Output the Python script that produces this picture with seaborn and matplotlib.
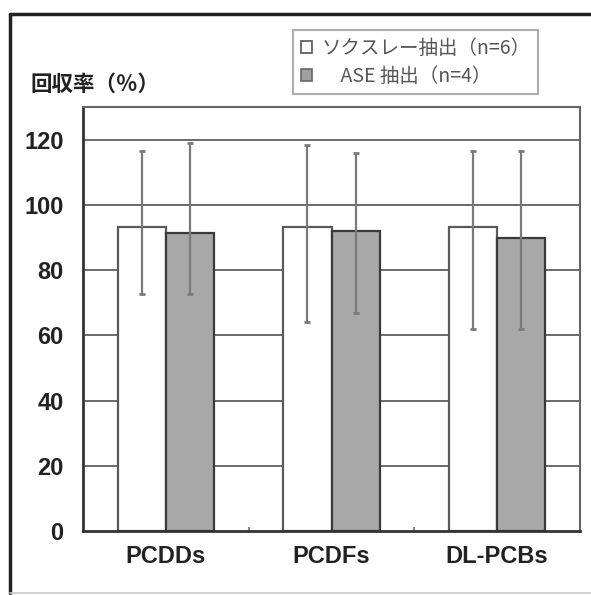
import matplotlib
matplotlib.use("Agg")
import matplotlib.pyplot as plt
from matplotlib.patches import Rectangle
from matplotlib.lines import Line2D
import seaborn as sns
import pandas as pd
import numpy as np

# Recovery rates (%) by compound group and extraction method
categories = ["PCDDs", "PCDFs", "DL-PCBs"]
methods = ["ソクスレー抽出（n=6）", "　ASE 抽出（n=4）"]
soxhlet_mean = [93.1, 93.1, 93.1]
soxhlet_low = [72.8, 64.0, 62.0]
soxhlet_high = [116.6, 118.2, 116.6]
ase_mean = [91.3, 92.1, 89.9]
ase_low = [72.8, 66.9, 62.0]
ase_high = [119.1, 115.9, 116.6]
yticks = [0, 20, 40, 60, 80, 100, 120]

df = pd.DataFrame({
    "category": categories * 2,
    "method": [methods[0]] * 3 + [methods[1]] * 3,
    "value": soxhlet_mean + ase_mean,
})

sns.set_theme(style="white")
plt.rcParams["font.family"] = ["Noto Sans CJK JP", "DejaVu Sans"]

fig = plt.figure(figsize=(5.91, 5.95), dpi=100)
ax = fig.add_axes([83 / 591, 1 - 531 / 595, (580 - 83) / 591, (531 - 107) / 595])

colors = ["#ffffff", "#a8a8a8"]
sns.barplot(data=df, x="category", y="value", hue="method", order=categories,
            hue_order=methods, palette=colors, width=0.58, errorbar=None,
            ax=ax, legend=False, zorder=2)

edge_cols = ["#5a5a5a", "#3a3a3a"]
for cont, ec in zip(ax.containers, edge_cols):
    for bar in cont:
        bar.set_edgecolor(ec)
        bar.set_linewidth(1.6)

# min-max ranges as error bars
ranges = [(soxhlet_mean, soxhlet_low, soxhlet_high), (ase_mean, ase_low, ase_high)]
for cont, (m, lo, hi) in zip(ax.containers, ranges):
    xs = [b.get_x() + b.get_width() / 2 for b in cont]
    m = np.array(m); lo = np.array(lo); hi = np.array(hi)
    ax.errorbar(xs, m, yerr=[m - lo, hi - m], fmt="none", ecolor="#7a7a7a",
                elinewidth=1.6, capsize=2.2, capthick=2.0, zorder=3)

ax.set_xlim(-0.5, 2.5)
ax.set_ylim(0, 130)
ax.set_yticks(yticks)
ax.set_yticklabels([str(v) for v in yticks], family="Liberation Sans",
                   fontsize=17, fontweight="bold", color="#222222")
ax.set_xticks(range(len(categories)))
ax.set_xticklabels(categories, family="Liberation Sans",
                   fontsize=17, fontweight="bold", color="#222222")
ax.set_xticks([0.5, 1.5], minor=True)
ax.tick_params(axis="x", which="major", length=0, pad=10)
ax.tick_params(axis="x", which="minor", direction="in", length=3, width=1.5,
               color="#888888", bottom=True)
ax.tick_params(axis="y", length=0, pad=14)
ax.set_xlabel("")
ax.set_ylabel("")

for v in yticks[1:]:
    ax.axhline(v, color="#6a6a6a", lw=1.4, zorder=1)

for side in ["left", "bottom"]:
    ax.spines[side].set_color("#333333")
    ax.spines[side].set_linewidth(2.0)
for side in ["top", "right"]:
    ax.spines[side].set_color("#666666")
    ax.spines[side].set_linewidth(1.5)

fig.text(30 / 591, 1 - 84 / 595, "回収率（％）", fontsize=15.5, fontweight="bold",
         va="center", ha="left", color="#222222")

handles = [Rectangle((0, 0), 1, 1, facecolor="#ffffff", edgecolor="#555555", lw=1.2),
           Rectangle((0, 0), 1, 1, facecolor="#a0a0a0", edgecolor="#666666", lw=1.2)]
leg = fig.legend(handles, methods, loc="upper left",
                 bbox_to_anchor=(293 / 591, 1 - 30 / 595), borderaxespad=0,
                 fontsize=14, fancybox=False, frameon=True, handlelength=0.6,
                 handleheight=0.6, handletextpad=0.45, labelspacing=0.35,
                 borderpad=0.4)
leg.get_frame().set_edgecolor("#999999")
leg.get_frame().set_linewidth(1.5)
for t in leg.get_texts():
    t.set_color("#555555")

# outer frame
fig.add_artist(Line2D([10 / 591, 1], [1 - 14 / 595] * 2, color="#222222", lw=2.5))
fig.add_artist(Line2D([10 / 591] * 2, [1 - 14 / 595, 1 - 593 / 595], color="#222222", lw=2.5))
fig.add_artist(Line2D([10 / 591, 1], [1 - 593 / 595] * 2, color="#cccccc", lw=1.2))

fig.savefig("out.png", dpi=100, facecolor="white")
